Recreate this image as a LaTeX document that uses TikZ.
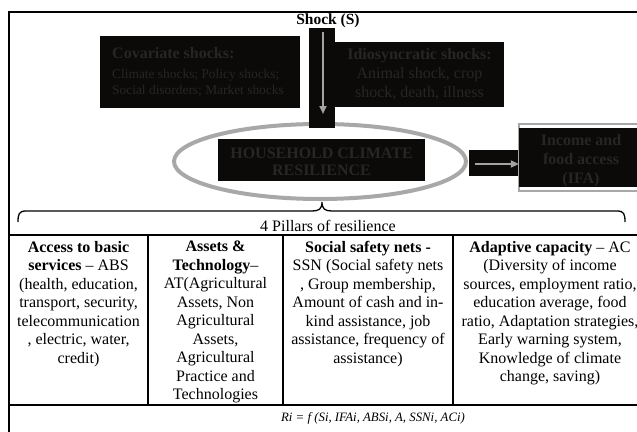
\documentclass[tikz,border=0pt]{standalone}
\usepackage{fontspec}
\setmainfont{Liberation Serif}
\usetikzlibrary{arrows.meta,shapes.geometric}

\definecolor{boxblack}{HTML}{0B0A08}
\definecolor{boxtext}{HTML}{262626}
\definecolor{arrowgray}{HTML}{A3A3A3}
\definecolor{ringgray}{HTML}{A8A8A8}

\begin{document}
\begin{tikzpicture}[x=1pt,y=-1pt,
  blackbox/.style={fill=boxblack, draw=none, inner sep=0pt},
  boxlabel/.style={text=boxtext, align=center, inner sep=0pt},
  celltext/.style={align=center, inner sep=0pt, anchor=north, font=\fontsize{16}{18.5}\selectfont},
  grayarrow/.style={draw=arrowgray, line width=2pt, -{Triangle[length=8pt,width=7pt]}},
  rulestyle/.style={line width=1.1pt, draw=black},
  bracestyle/.style={line width=1.3pt, draw=black}
]
\useasboundingbox (0,0) rectangle (637,431);
\clip (0,0) rectangle (637,431);
\fill[white] (0,0) rectangle (637,431);

% outer frame and table rules
\draw[rulestyle] (9,450) -- (9,12) -- (660,12);
\draw[rulestyle] (9,235) -- (660,235);
\draw[rulestyle] (9,405) -- (660,405);
\draw[rulestyle] (148,235) -- (148,405);
\draw[rulestyle] (283,235) -- (283,405);
\draw[rulestyle] (453,235) -- (453,405);

% ring
\node[draw=ringgray, line width=4pt, ellipse, minimum width=292pt, minimum height=75pt, inner sep=0pt] (ring) at (320,161.5) {};

% black boxes
\node[blackbox, minimum width=26pt, minimum height=100pt] (stem) at (322,78) {};
\node[blackbox, minimum width=200pt, minimum height=72pt] (cov) at (200,72) {};
\node[blackbox, minimum width=169pt, minimum height=65pt] (idio) at (419.5,74.5) {};
\node[blackbox, minimum width=207pt, minimum height=42pt] (hh) at (321.5,160) {};
\node[blackbox, minimum width=49pt, minimum height=26pt] (link) at (493.5,163) {};
\node[draw=ringgray, line width=2pt, minimum width=142pt, minimum height=67pt, inner sep=0pt] (ifaframe) at (590,157.5) {};
\node[blackbox, minimum width=124pt, minimum height=59pt] (ifa) at (581,157.5) {};

% texts
\node[font=\bfseries\fontsize{15.5}{18}\selectfont, inner sep=0pt] (shock) at (328,21) {Shock (S)};
\node[boxlabel, anchor=west, font=\bfseries\fontsize{16}{19}\selectfont] (covt) at (112,53) {Covariate shocks:};
\node[boxlabel, anchor=west, font=\fontsize{13.4}{16}\selectfont] (covl1) at (112,75) {Climate shocks; Policy shocks;};
\node[boxlabel, anchor=west, font=\fontsize{13.4}{16}\selectfont] (covl2) at (112,91) {Social disorders; Market shocks};
\node[boxlabel, font=\fontsize{16}{19}\selectfont] (idiot) at (419.5,74) {\textbf{Idiosyncratic shocks:}\\Animal shock, crop\\shock, death, illness};
\node[boxlabel, font=\bfseries\fontsize{16}{17}\selectfont] (hht) at (321.5,161.5) {HOUSEHOLD CLIMATE\\RESILIENCE};
\node[boxlabel, font=\bfseries\fontsize{16}{19}\selectfont] (ifat) at (581,160.5) {Income and\\food access\\(IFA)};

% arrows
\coordinate (s1) at (323,32);
\coordinate (s2) at (323,114);
\draw[grayarrow] (s1) -- (s2);
\coordinate (l1) at ([xshift=6pt,yshift=-1pt]link.west);
\draw[grayarrow] (l1) -- (l1 -| ifa.west);

% brace
\coordinate (bl) at (18,222);
\coordinate (bt) at (322,202);
\coordinate (br) at (625,222);
\draw[bracestyle] (bl) .. controls (18,214) and (19,211) .. (26,211) -- (312,211)
  .. controls (319,211) and (322,209) .. (bt)
  .. controls (322,209) and (325,211) .. (332,211) -- (617,211)
  .. controls (624,211) and (625,214) .. (br);

\node[font=\fontsize{16}{18}\selectfont, inner sep=0pt] (pillars) at (328,226) {4 Pillars of resilience};

% table cells
\node[celltext] (c1) at (78.5,241) {\textbf{Access to basic}\\\textbf{services} -- ABS\\(health, education,\\transport, security,\\telecommunication\\, electric, water,\\credit)};
\node[celltext] (c2) at (215.5,241) {\textbf{Assets \&}\\\textbf{Technology}--\\AT(Agricultural\\Assets, Non\\Agricultural\\Assets,\\Agricultural\\Practice and\\Technologies};
\node[celltext] (c3) at (368,241) {\textbf{Social safety nets -}\\SSN (Social safety nets\\, Group membership,\\Amount of cash and in-\\kind assistance, job\\assistance, frequency of\\assistance)};
\node[celltext] (c4) at (550,241) {\textbf{Adaptive capacity} -- AC\\(Diversity of income\\sources, employment ratio,\\education average, food\\ratio, Adaptation strategies,\\Early warning system,\\Knowledge of climate\\change, saving)};

\node[font=\itshape\fontsize{12.8}{15}\selectfont, inner sep=0pt] (formula) at (373,418) {Ri = f (Si, IFAi, ABSi, A, SSNi, ACi)};
\end{tikzpicture}
\end{document}
